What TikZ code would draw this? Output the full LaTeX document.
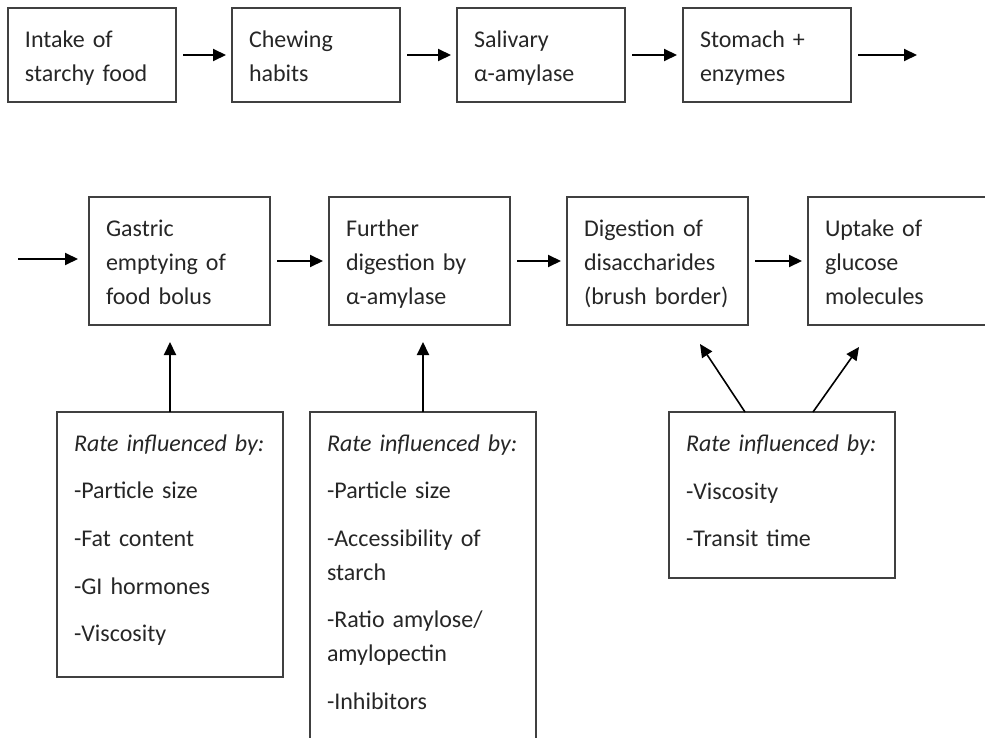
\documentclass[tikz,border=0pt]{standalone}
\usepackage{fontspec}
\setmainfont{Carlito}
\usetikzlibrary{arrows.meta}

\tikzset{
  panel/.style={draw=black!75, line width=0.6pt, anchor=north west, align=left,
                inner xsep=8.5pt, inner ysep=0pt, outer sep=0pt, text=black!85,
                font=\fontsize{12}{17}\selectfont},
  stage/.style={panel, execute at begin node={\rule{0pt}{14.4pt}}, execute at end node={\strut}},
  factors/.style={panel, text width=96pt},
  flow/.style={-{Triangle[length=6.5pt,width=6pt]}, line width=1pt,
               shorten <=3.5pt, shorten >=3pt}
}

\begin{document}
\begin{tikzpicture}[x=0.5pt, y=-0.5pt]
    \useasboundingbox (0,0) rectangle (985,738);
    \node[stage, text width=67pt, minimum height=47pt] (intake) at (8,8) {Intake of\\starchy food};
    \node[stage, text width=67pt, minimum height=47pt] (chewing) at (232,8) {Chewing\\habits};
    \node[stage, text width=67pt, minimum height=47pt] (salivary) at (457,8) {Salivary\\α-amylase};
    \node[stage, text width=67pt, minimum height=47pt] (stomach) at (683,8) {Stomach +\\enzymes};
    \coordinate (onward) at (923,55);

    \node[stage, text width=73.5pt, minimum height=64pt] (gastric) at (89,197) {Gastric\\emptying of\\food bolus};
    \node[stage, text width=73.5pt, minimum height=64pt] (further) at (329,197) {Further\\digestion by\\α-amylase};
    \node[stage, text width=73.5pt, minimum height=64pt] (disacch) at (567,197) {Digestion of\\disaccharides\\(brush border)};
    \node[stage, text width=73.5pt, minimum height=64pt] (uptake) at (808,197) {Uptake of\\glucose\\molecules};
    \coordinate (incoming) at (18,259);

    \node[factors, minimum height=132.5pt] (rateA) at (57,412)
      {\textit{Rate influenced by:}\\[6.8pt]-Particle size\\[6.8pt]-Fat content\\[6.8pt]-GI hormones\\[6.8pt]-Viscosity\\[-10.6pt]\mbox{}};
    \node[factors, minimum height=172pt] (rateB) at (310,412)
      {\textit{Rate influenced by:}\\[6.8pt]-Particle size\\[6.8pt]-Accessibility of\\starch\\[6.8pt]-Ratio amylose/\\amylopectin\\[6.8pt]-Inhibitors\\[-5pt]\mbox{}};
    \node[factors, minimum height=83pt] (rateC) at (669,412)
      {\textit{Rate influenced by:}\\[6.8pt]-Viscosity\\[6.8pt]-Transit time\\[-13pt]\mbox{}};

    \draw[flow] (intake.east) -- (chewing.west);
    \draw[flow] (chewing.east) -- (salivary.west);
    \draw[flow] (salivary.east) -- (stomach.west);
    \draw[flow] (stomach.east) -- (onward);

    \draw[flow, shorten <=0pt, shorten >=5.5pt] (incoming) -- (incoming -| gastric.west);
    \draw[flow] (gastric.east) -- (further.west);
    \draw[flow] (further.east) -- (disacch.west);
    \draw[flow] (disacch.east) -- (uptake.west);

    \draw[flow, shorten <=0pt, shorten >=8.5pt] (rateA.north) -- (rateA.north |- gastric.south);
    \draw[flow, shorten <=0pt, shorten >=8.5pt] (rateB.north) -- (rateB.north |- further.south);
    \draw[flow, line width=0.8pt, shorten <=0pt, shorten >=0pt] ([xshift=-18.5pt]rateC.north) -- ([xshift=-24pt,yshift=-9.5pt]disacch.south east);
    \draw[flow, line width=0.8pt, shorten <=0pt, shorten >=0pt] ([xshift=15.5pt]rateC.north) -- ([xshift=25.5pt,yshift=-11pt]uptake.south west);
\end{tikzpicture}
\end{document}
